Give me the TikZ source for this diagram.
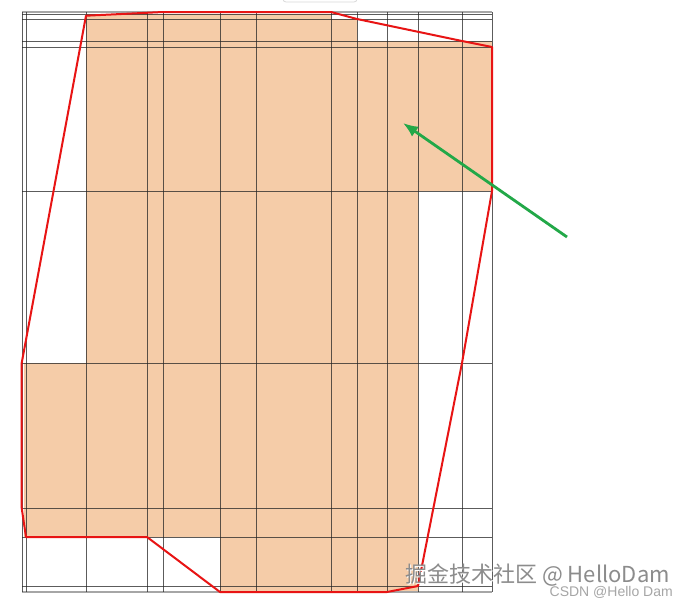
\documentclass[tikz,border=0pt]{standalone}
\usepackage{fontspec}
\newfontfamily\cjkfont{Noto Sans CJK SC}
\newfontfamily\arialfont{Liberation Sans}
\usetikzlibrary{arrows.meta}
\definecolor{fillorange}{RGB}{245,204,168}
\definecolor{hullred}{RGB}{232,20,20}
\definecolor{arrowgreen}{RGB}{34,168,72}
\tikzset{
  gridline/.style={draw=black!85, line width=0.7pt, opacity=0.75},
  borderline/.style={draw=black!35, line width=1.3pt},
  hull/.style={draw=hullred, line width=2pt, line join=round},
  pointer/.style={draw=arrowgreen, line width=2.8pt, -{Latex[length=15pt,width=12pt]}},
  wmark/.style={inner sep=0pt, anchor=base west, text=black!45},
  csdn/.style={inner sep=0pt, anchor=base east, text=black!35}
}
\begin{document}
\begin{tikzpicture}[x=1pt,y=-1pt]
\useasboundingbox[fill=white] (0,0) rectangle (688,606);
% faint box edge at top
\draw[black!15, line width=0.8pt, rounded corners=3pt] (283,-10) rectangle (357,2);
% orange region
\fill[fillorange] (86,14) -- (331,14) -- (331,19) -- (357,19) -- (357,41) -- (492,41)
  -- (492,191) -- (418,191) -- (418,592) -- (220,592) -- (220,537) -- (24,537)
  -- (24,363) -- (86,363) -- cycle;
% grid
\draw[borderline] (22,12) -- (492,12);
\draw[borderline] (22,592) -- (492,592);
\foreach \gx in {22,26,86,147,163,220,256,331,357,387,418,462,492}
  \draw[gridline] (\gx,12) -- (\gx,592);
\foreach \gy in {14.5,19,41,47,191,363,508,537,586}
  \draw[gridline] (22,\gy) -- (492,\gy);
% convex hull
\draw[hull] (86,15.7) -- (163,12) -- (331,12) -- (357,19) -- (462,41) -- (492,47)
  -- (492,191) -- (462,363) -- (418,586) -- (387,592) -- (220,592) -- (147,537)
  -- (26,537) -- (21.7,508) -- (21.7,363) -- cycle;
% green arrow
\coordinate (arrowstart) at (567,237);
\coordinate (arrowtip) at (403,123);
\draw[pointer] (arrowstart) -- (arrowtip);
% watermarks
\node[wmark, text=white] (wmshadow) at (406.5,583.5) {\cjkfont\fontsize{22}{22}\selectfont 掘金技术社区 @ HelloDam};
\node[wmark] (wm) at (405,582) {\cjkfont\fontsize{22}{22}\selectfont 掘金技术社区 @ HelloDam};
\node[csdn] (csdnmark) at (673,596) {\arialfont\fontsize{14}{14}\selectfont CSDN @Hello Dam};
\end{tikzpicture}
\end{document}
